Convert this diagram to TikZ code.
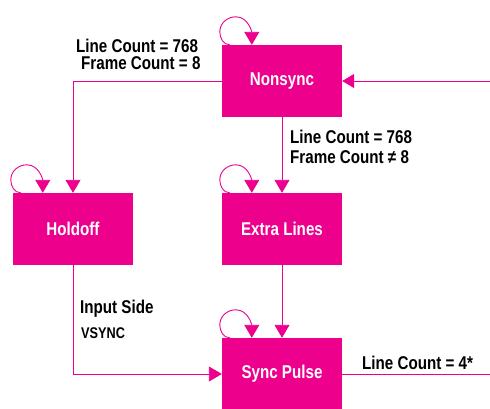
\documentclass[tikz,border=0pt]{standalone}
\usepackage{fontspec}
\newfontfamily\labfont{Liberation Sans}[FakeStretch=0.82]
\usetikzlibrary{arrows.meta}
\definecolor{mag}{HTML}{EC008C}
\tikzset{
  statebox/.style={fill=mag, minimum width=120pt, minimum height=72pt, inner sep=0pt,
    text=white, font=\labfont\bfseries\fontsize{18.5}{21}\selectfont},
  lab/.style={inner sep=0pt, anchor=base west, text=black, font=\labfont\bfseries\fontsize{18.5}{21}\selectfont},
  smalllab/.style={lab, font=\labfont\bfseries\fontsize{15.5}{18}\selectfont},
  conn/.style={draw=mag, line width=0.9pt},
  arr/.style={conn, -{Triangle[width=15pt,length=13pt]}},
  arrh/.style={conn, -{Triangle[width=14pt,length=12pt]}},
}
\begin{document}
\begin{tikzpicture}[x=1pt,y=-1pt]
\useasboundingbox (0,0) rectangle (490,408);
\clip (0,0) rectangle (490,408);
\node[statebox] (nonsync) at (282,81) {Nonsync};
\node[statebox] (holdoff) at (73,229) {Holdoff};
\node[statebox] (extra) at (282,229) {Extra Lines};
\node[statebox] (sync) at (282,374) {Sync Pulse};
\coordinate (inp) at (490,81);
\coordinate (outp) at (490,374);
% connectors
\draw[arr] (nonsync.west) -| (holdoff.north);
\draw[arr] (nonsync.south) -- (extra.north);
\draw[arr] (extra.south) -- (sync.north);
\draw[arr] (holdoff.south) |- (sync.west);
\draw[arrh] (inp) -- (nonsync.east);
\draw[conn] (sync.east) -- (outp);
% self loops
\foreach \n in {nonsync,holdoff,extra,sync}{
  \draw[arr] ([xshift=8pt]\n.north west) to[out=180,in=-90] ([xshift=-2pt,yshift=13pt]\n.north west)
     to[out=90,in=180] ([xshift=14pt,yshift=28pt]\n.north west)
     to[out=0,in=90] ([xshift=30pt]\n.north west);
}
% labels
\node[lab] (l1a) at (76,52) {Line Count = 768};
\node[lab] (l1b) at (81,69) {Frame Count = 8};
\node[lab] (l2a) at (290,143) {Line Count = 768};
\node[lab] (l2b) at (290,163) {Frame Count ≠ 8};
\node[lab] (l3a) at (80,313) {Input Side};
\node[smalllab] (l3b) at (81,338) {VSYNC};
\node[lab] (l4) at (362,369) {Line Count = 4*};
\end{tikzpicture}
\end{document}
